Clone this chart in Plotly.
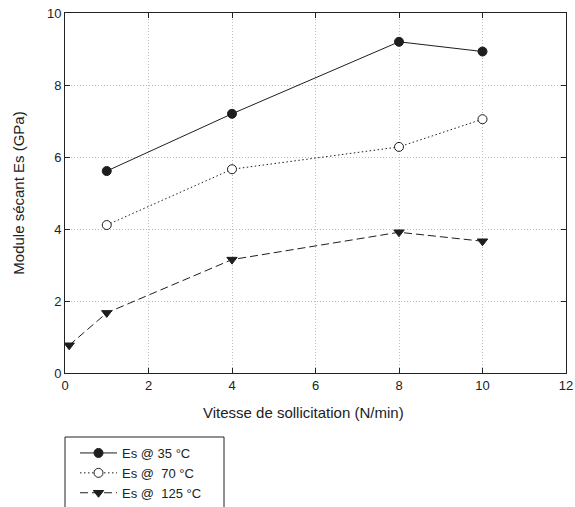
import plotly.graph_objects as go

x35 = [1, 4, 8, 10]
y35 = [5.61, 7.2, 9.2, 8.93]
x70 = [1, 4, 8, 10]
y70 = [4.11, 5.66, 6.28, 7.05]
x125 = [0.1, 1, 4, 8, 10]
y125 = [0.77, 1.67, 3.15, 3.91, 3.66]

names = ["Es @ 35 °C", "Es @  70 °C", "Es @  125 °C"]
xticks = [0, 2, 4, 6, 8, 10, 12]
yticks = [0, 2, 4, 6, 8, 10]
x_title = "Vitesse de sollicitation (N/min)"
y_title = "Module sécant Es (GPa)"

W, H = 575, 507
L, R, T = 65, 9, 13
PLOT_BOTTOM = 373
paper_h = H - T
plot_w = W - L - R
ydom0 = (H - PLOT_BOTTOM) / paper_h


def py(pix):
    return (H - pix) / paper_h


def px(pix):
    return (pix - L) / plot_w


fig = go.Figure()
fig.add_trace(go.Scatter(x=x35, y=y35, name=names[0], mode="lines+markers",
                         line=dict(color="#1e1e1e", width=1, dash="solid"),
                         marker=dict(symbol="circle", size=9, color="#1e1e1e", line=dict(color="#1e1e1e", width=1))))
fig.add_trace(go.Scatter(x=x70, y=y70, name=names[1], mode="lines+markers",
                         line=dict(color="#1e1e1e", width=1, dash="1.5px,2.5px"),
                         marker=dict(symbol="circle", size=9, color="white", line=dict(color="#1e1e1e", width=1))))
fig.add_trace(go.Scatter(x=x125, y=y125, name=names[2], mode="lines+markers",
                         line=dict(color="#1e1e1e", width=1, dash="8px,4px"),
                         marker=dict(symbol="triangle-down", size=9, color="#1e1e1e", line=dict(color="#1e1e1e", width=1))))

axis_common = dict(showline=True, linecolor="#222", linewidth=1, mirror="allticks",
                   ticks="inside", ticklen=5, tickcolor="#222",
                   showgrid=True, gridcolor="#c4b8b8", griddash="1px,2px", gridwidth=1,
                   zeroline=False, tickfont=dict(size=13, color="#222"))

fig.update_xaxes(range=[0, 12], tickvals=xticks, **axis_common)
fig.update_yaxes(range=[0, 10], tickvals=yticks, domain=[ydom0, 1], **axis_common,
                 title=dict(text=y_title, font=dict(size=15, color="#222"), standoff=18))

fig.add_annotation(text=x_title, xref="paper", yref="paper", x=px(303), y=py(412),
                   xanchor="center", yanchor="middle", showarrow=False,
                   font=dict(size=15, color="#222"))

fig.add_shape(type="rect", xref="paper", yref="paper", x0=0, x1=px(224), y0=py(437), y1=-0.2,
              line=dict(color="#222", width=1), fillcolor="rgba(0,0,0,0)")

fig.update_layout(
    width=W, height=H,
    margin=dict(l=L, r=R, t=T, b=0, autoexpand=False),
    paper_bgcolor="white", plot_bgcolor="white",
    font=dict(family="Liberation Sans, Arial, sans-serif", color="#222"),
    showlegend=True,
    legend=dict(x=px(75), xanchor="left", y=py(438), yanchor="top",
                bgcolor="rgba(0,0,0,0)", borderwidth=0,
                font=dict(size=13, color="#222"), tracegroupgap=0, itemwidth=37),
)

fig.write_html("out.html")
